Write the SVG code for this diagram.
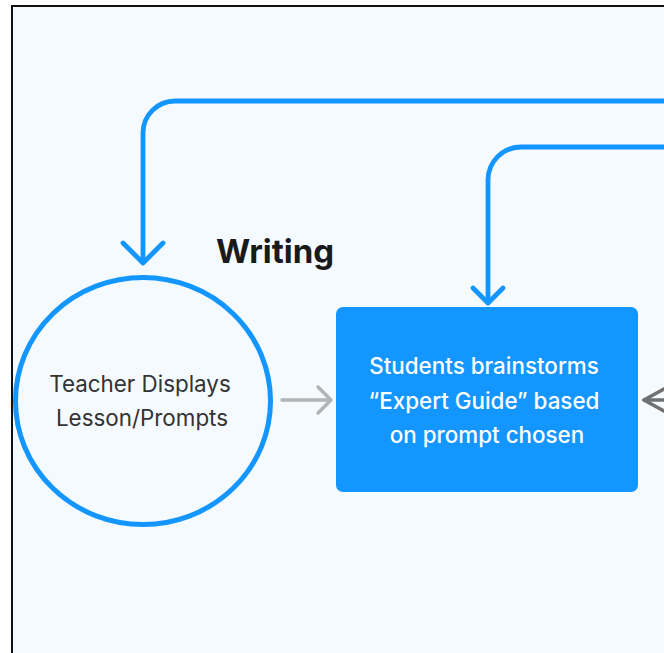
<svg xmlns="http://www.w3.org/2000/svg" width="664" height="653" viewBox="0 0 664 653">
<style>
.flow{fill:none;stroke:#1396FF;stroke-width:4.8;stroke-linecap:round;stroke-linejoin:round}
.gray{fill:none;stroke:#B3B3B3;stroke-width:3.5;stroke-linecap:round;stroke-linejoin:round}
.dgray{fill:none;stroke:#707070;stroke-width:3.5;stroke-linecap:round;stroke-linejoin:round}
.lbl{font-family:Inter,"Liberation Sans",sans-serif;font-size:22.4px;text-anchor:middle}
</style>
<rect width="664" height="653" fill="#FFFFFF"/>
<rect x="12" y="6" width="660" height="660" fill="#F5FAFF" stroke="#111111" stroke-width="2"/>
<text x="216" y="263" font-family="Inter,'Liberation Sans',sans-serif" font-size="33" font-weight="700" fill="#1A1A1A">Writing</text>
<g id="connectors">
<path class="flow" d="M666 101 H175 A32 32 0 0 0 143 133 V262"/>
<path class="flow" d="M123 243 L143 263 L163 243"/>
<path class="flow" d="M666 147 H521 A33 33 0 0 0 488 180 V302"/>
<path class="flow" d="M473 288 L488 303 L503 288"/>
<path class="gray" d="M282 400 H330"/>
<path class="gray" d="M318 387 L331 400 L318 413"/>
<path class="dgray" d="M644 400 H666"/>
<path class="dgray" d="M666 388 L644 400 L666 412"/>
</g>
<g id="teacher">
<ellipse cx="143" cy="401" rx="127.5" ry="123.5" fill="#F5FAFF" stroke="#1396FF" stroke-width="5"/>
<text class="lbl" fill="#333333"><tspan x="140" y="392">Teacher Displays</tspan><tspan x="142" y="426">Lesson/Prompts</tspan></text>
</g>
<g id="students">
<rect x="336" y="307" width="302" height="185" rx="7" fill="#1396FF"/>
<text class="lbl" fill="#FFFFFF" font-weight="500"><tspan x="484" y="374">Students brainstorms</tspan><tspan x="484" y="409">“Expert Guide” based</tspan><tspan x="487" y="443">on prompt chosen</tspan></text>
</g>
</svg>
